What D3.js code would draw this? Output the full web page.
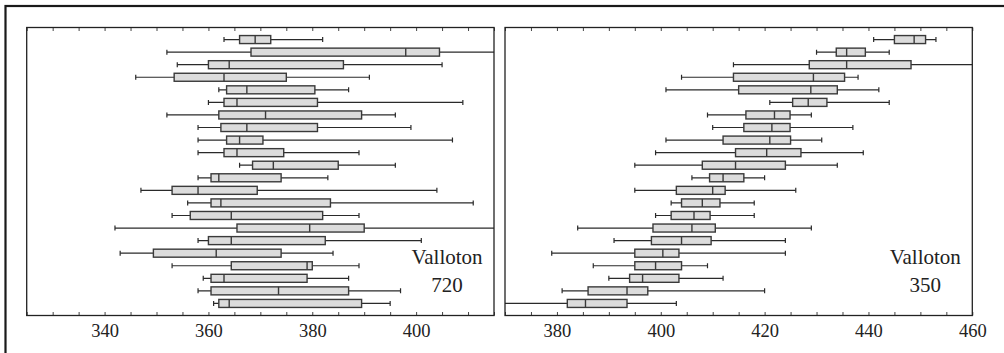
<!DOCTYPE html>
<html>
<head>
<meta charset="utf-8">
<script src="https://cdn.jsdelivr.net/npm/d3@7"></script>
<style>
  body { margin: 0; background: #fff; }
  svg { display: block; }
</style>
</head>
<body>
<svg id="chart" width="1004" height="353"></svg>
<script>
// five-number summaries per row, top row first: [low whisker, q1, median, q3, high whisker]
var leftStats = [
    [363, 366, 369, 372, 382],
    [352, 368.2, 398, 404.5, 420],
    [354, 360, 364, 386, 405],
    [346, 353.4, 363, 375, 391],
    [362, 363.5, 367.4, 380.5, 387],
    [360, 363, 365.5, 381, 409],
    [352, 362, 371, 389.5, 396],
    [358, 362.4, 367.4, 381, 399],
    [358, 363.5, 366, 370.5, 407],
    [358, 363, 365.5, 374.5, 389],
    [366, 368.5, 372.5, 385, 396],
    [358, 360.5, 362, 374, 383],
    [347, 353, 358, 369.4, 404],
    [356, 360.5, 362.4, 383.5, 411],
    [353, 356.5, 364.4, 382, 389],
    [342, 365.5, 379.5, 390, 420],
    [358, 360, 364.4, 382.5, 401],
    [343, 349.4, 361.5, 374, 384],
    [353, 364.4, 379, 380, 389],
    [359, 360.5, 363, 379, 387],
    [358, 360.5, 373.5, 387, 397],
    [361, 362, 364, 389.5, 395]
];
var rightStats = [
    [441, 445, 448.8, 451, 453],
    [430, 433.8, 435.8, 439.4, 444],
    [414, 428.6, 435.8, 448.2, 465],
    [404, 414, 429.4, 435.4, 438],
    [401, 415, 428.9, 434, 442],
    [421, 425.4, 428.4, 432, 444],
    [409, 416.4, 421.9, 424.9, 429],
    [410, 416, 421.4, 424.9, 437],
    [401, 412, 421, 425, 431],
    [399, 414.4, 420.4, 427, 439],
    [395, 408, 414.4, 424, 434],
    [406, 409.4, 412, 416, 420],
    [395, 403, 410, 412.4, 426],
    [402, 404, 408, 411.4, 418],
    [399, 402, 406.4, 409.5, 418],
    [384, 398.5, 406, 410.5, 429],
    [391, 398.2, 404, 409.7, 424],
    [379, 395, 400.4, 403.5, 424],
    [387, 395, 399, 404, 409],
    [390, 394, 396.5, 403.5, 412],
    [381, 386, 393.5, 397.5, 420],
    [365, 382, 385.5, 393.5, 403]
];

var leftDomain = [325, 415];
var rightDomain = [370, 460];
var leftTicks = d3.range(325, 416, 5);   // minor every 5
var rightTicks = d3.range(370, 461, 5);
var labelStep = 20;                       // labelled ticks

var leftTitle = ["Valloton", "720"];
var rightTitle = ["Valloton", "350"];

var plotTop = 27.5;
var plotBottom = 315.5;
var boxHeight = 8;
var capHeight = 5;
var serif = "'Liberation Serif', 'DejaVu Serif', serif";

var svg = d3.select("#chart");

// outer frame, right and bottom edges run off the picture
svg.append("rect")
    .attr("x", 5.5)
    .attr("y", 6)
    .attr("width", 1010)
    .attr("height", 360)
    .attr("fill", "none")
    .attr("stroke", "#1a1a1a")
    .attr("stroke-width", 2.2);


function drawPanel(stats, domain, ticks, title, left, right, id) {
    let x = d3.scaleLinear().domain(domain).range([left, right]);
    let y = d3.scalePoint()
        .domain(d3.range(stats.length))
        .range([plotTop, plotBottom])
        .padding(0.96);

    let g = svg.append("g");

    g.append("clipPath")
        .attr("id", id)
        .append("rect")
        .attr("x", left)
        .attr("y", plotTop)
        .attr("width", right - left)
        .attr("height", plotBottom - plotTop);

    let rows = g.append("g")
        .attr("clip-path", "url(#" + id + ")")
        .selectAll("g.row")
        .data(stats)
        .join("g")
        .attr("class", "row");

    // whiskers
    rows.append("line")
        .attr("x1", d => x(d[0]))
        .attr("x2", d => x(d[4]))
        .attr("y1", (d, i) => y(i))
        .attr("y2", (d, i) => y(i))
        .attr("stroke", "#2a2a2a")
        .attr("stroke-width", 1.2);

    // whisker caps
    [0, 4].forEach(function(k) {
        rows.append("line")
            .attr("x1", d => x(d[k]))
            .attr("x2", d => x(d[k]))
            .attr("y1", (d, i) => y(i) - capHeight / 2)
            .attr("y2", (d, i) => y(i) + capHeight / 2)
            .attr("stroke", "#2a2a2a")
            .attr("stroke-width", 1.2);
    });

    // boxes
    rows.append("rect")
        .attr("x", d => x(d[1]))
        .attr("width", d => x(d[3]) - x(d[1]))
        .attr("y", (d, i) => y(i) - boxHeight / 2)
        .attr("height", boxHeight)
        .attr("fill", "#dcdcdc")
        .attr("stroke", "#3a3a3a")
        .attr("stroke-width", 1.4);

    // medians
    rows.append("line")
        .attr("x1", d => x(d[2]))
        .attr("x2", d => x(d[2]))
        .attr("y1", (d, i) => y(i) - boxHeight / 2)
        .attr("y2", (d, i) => y(i) + boxHeight / 2)
        .attr("stroke", "#3a3a3a")
        .attr("stroke-width", 1.4);

    // inward ticks, bottom with labels and top without
    let bottomAxis = d3.axisBottom(x)
        .tickValues(ticks)
        .tickSizeInner(-3.5)
        .tickSizeOuter(0)
        .tickFormat(v => v % labelStep === 0 ? v : "");
    let topAxis = d3.axisTop(x)
        .tickValues(ticks)
        .tickSizeInner(-3.5)
        .tickSizeOuter(0)
        .tickFormat("");

    let gb = g.append("g")
        .attr("transform", "translate(0," + plotBottom + ")")
        .call(bottomAxis);
    let gt = g.append("g")
        .attr("transform", "translate(0," + plotTop + ")")
        .call(topAxis);

    [gb, gt].forEach(function(a) {
        a.select(".domain").remove();
        a.selectAll(".tick line").attr("stroke", "#444").attr("stroke-width", 1);
    });
    gb.selectAll(".tick text")
        .attr("fill", "#222")
        .style("font-family", serif)
        .style("font-size", "18.5px")
        .attr("dy", "0.71em")
        .attr("y", 8.5);

    // plot frame
    g.append("rect")
        .attr("x", left)
        .attr("y", plotTop)
        .attr("width", right - left)
        .attr("height", plotBottom - plotTop)
        .attr("fill", "none")
        .attr("stroke", "#222")
        .attr("stroke-width", 1.3);

    // panel label
    let cx = right - 47;
    g.selectAll("text.title")
        .data(title)
        .join("text")
        .attr("class", "title")
        .attr("x", cx)
        .attr("y", (d, i) => 264 + i * 27.7)
        .attr("text-anchor", "middle")
        .attr("fill", "#222")
        .style("font-family", serif)
        .style("font-size", "21px")
        .text(d => d);
};


drawPanel(leftStats, leftDomain, leftTicks, leftTitle, 26.7, 494, "clipLeft");
drawPanel(rightStats, rightDomain, rightTicks, rightTitle, 505, 972.3, "clipRight");
</script>
</body>
</html>
